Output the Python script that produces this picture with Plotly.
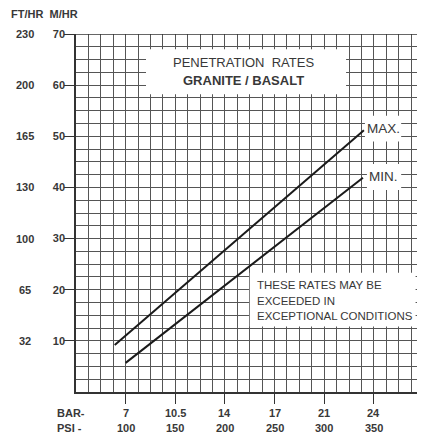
import plotly.graph_objects as go

# ---- data ----
psi_ticks = [100, 150, 200, 250, 300, 350]
bar_labels = ["7", "10.5", "14", "17", "21", "24"]
psi_labels = ["100", "150", "200", "250", "300", "350"]
mhr_ticks = [10, 20, 30, 40, 50, 60, 70]
fthr_labels = ["32", "65", "100", "130", "165", "200", "230"]

max_psi = [89, 340]
max_rate = [9.2, 51.2]
min_psi = [100, 339]
min_rate = [5.7, 41.9]

GRID = "#555555"
TXT = "#383838"
FONT = "Liberation Sans, Arial, Helvetica, sans-serif"

# page layout (browser body has an 8px margin)
OFF = 8
PL, PT, PB, PR = 76, 34, 392, 425     # plot edges in page pixels
FW, FH = 425 - OFF, 435 - OFF


def px(xp):
    return (xp - PL) / (PR - PL)


def py(yp):
    return (PB - yp) / (PB - PT)


fig = go.Figure()
fig.add_trace(go.Scatter(x=max_psi, y=max_rate, mode="lines",
                         line=dict(color="#1a1a1a", width=2), showlegend=False, hoverinfo="skip"))
fig.add_trace(go.Scatter(x=min_psi, y=min_rate, mode="lines",
                         line=dict(color="#1a1a1a", width=2), showlegend=False, hoverinfo="skip"))

X0, X1 = 50, 401.5
Y0, Y1 = 0, 70

fig.update_layout(
    width=FW, height=FH,
    margin=dict(l=PL - OFF, r=0, t=PT - OFF, b=FH - (PB - OFF)),
    paper_bgcolor="white", plot_bgcolor="white",
    font=dict(family=FONT, color=TXT),
    xaxis=dict(range=[X0, X1], tickvals=psi_ticks, ticktext=[""] * len(psi_ticks),
               ticks="outside", ticklen=10, tickcolor="#333", tickwidth=1.3,
               showgrid=True, gridcolor=GRID, gridwidth=1,
               minor=dict(tick0=50, dtick=12.5, showgrid=True, gridcolor=GRID, gridwidth=1, ticks=""),
               showline=True, linecolor="#333", linewidth=1.5, zeroline=False, fixedrange=True,
               automargin=False),
    yaxis=dict(range=[Y0, Y1], tickvals=mhr_ticks, ticktext=[str(v) for v in mhr_ticks],
               ticks="outside", ticklen=10, tickcolor="#333", tickwidth=1.3,
               tickfont=dict(size=11, family=FONT, color=TXT, weight="bold"),
               showgrid=True, gridcolor=GRID, gridwidth=1,
               minor=dict(tick0=0, dtick=2.5, showgrid=True, gridcolor=GRID, gridwidth=1, ticks=""),
               showline=True, linecolor="#333", linewidth=1.5, zeroline=False, fixedrange=True,
               ticklabelstandoff=-3, automargin=False),
)

shapes = [
    dict(type="line", xref="x", yref="y", x0=X0, x1=X1, y0=Y1, y1=Y1,
         line=dict(color="#333", width=1.5), layer="above"),
    dict(type="rect", xref="x", yref="y", x0=120.5, x1=322, y0=58.2, y1=67.0,
         fillcolor="white", line=dict(width=0), layer="above"),
    dict(type="rect", xref="x", yref="y", x0=225, x1=392, y0=12.8, y1=23.3,
         fillcolor="white", line=dict(width=0), layer="above"),
    dict(type="rect", xref="x", yref="y", x0=341, x1=377.5, y0=49.0, y1=54.0,
         fillcolor="white", line=dict(width=0), layer="above"),
    dict(type="rect", xref="x", yref="y", x0=343, x1=377.5, y0=39.5, y1=44.6,
         fillcolor="white", line=dict(width=0), layer="above"),
]
fig.update_layout(shapes=shapes)

ann = []
ann.append(dict(x=219, y=64.4, xref="x", yref="y", text="PENETRATION  RATES", showarrow=False,
                font=dict(size=13, family=FONT, color=TXT)))
ann.append(dict(x=219, y=60.9, xref="x", yref="y", text="<b>GRANITE / BASALT</b>", showarrow=False,
                font=dict(size=13, family=FONT, color=TXT)))
for i, t in enumerate(["THESE RATES MAY BE", "EXCEEDED IN", "EXCEPTIONAL CONDITIONS"]):
    ann.append(dict(x=230.5, y=20.9 - i * 3.05, xref="x", yref="y", text=t, showarrow=False,
                    xanchor="left", font=dict(size=11.5, family=FONT, color=TXT)))
ann.append(dict(x=341.5, y=51.6, xref="x", yref="y", text="MAX.", showarrow=False, xanchor="left",
                font=dict(size=13.5, family=FONT, color=TXT)))
ann.append(dict(x=343.5, y=42.1, xref="x", yref="y", text="MIN.", showarrow=False, xanchor="left",
                font=dict(size=13.5, family=FONT, color=TXT)))
ann.append(dict(x=px(9), y=py(14), xref="paper", yref="paper", xanchor="left", yanchor="middle",
                text="<b>FT/HR  M/HR</b>", showarrow=False, font=dict(size=11, family=FONT, color=TXT)))
for v, t in zip(mhr_ticks, fthr_labels):
    ann.append(dict(x=px(25), y=v, xref="paper", yref="y", text="<b>" + t + "</b>", showarrow=False,
                    xanchor="center", font=dict(size=11, family=FONT, color=TXT)))
for v, b, p in zip(psi_ticks, bar_labels, psi_labels):
    ann.append(dict(x=v, y=py(413), xref="x", yref="paper", text="<b>" + b + "</b>", showarrow=False,
                    yanchor="middle", font=dict(size=11, family=FONT, color=TXT)))
    ann.append(dict(x=v, y=py(428), xref="x", yref="paper", text="<b>" + p + "</b>", showarrow=False,
                    yanchor="middle", font=dict(size=11, family=FONT, color=TXT)))
ann.append(dict(x=px(55), y=py(413), xref="paper", yref="paper", text="<b>BAR-</b>", showarrow=False,
                xanchor="left", yanchor="middle", font=dict(size=11, family=FONT, color=TXT)))
ann.append(dict(x=px(55), y=py(428), xref="paper", yref="paper", text="<b>PSI -</b>", showarrow=False,
                xanchor="left", yanchor="middle", font=dict(size=11, family=FONT, color=TXT)))
fig.update_layout(annotations=ann)

fig.write_html("out.html")
